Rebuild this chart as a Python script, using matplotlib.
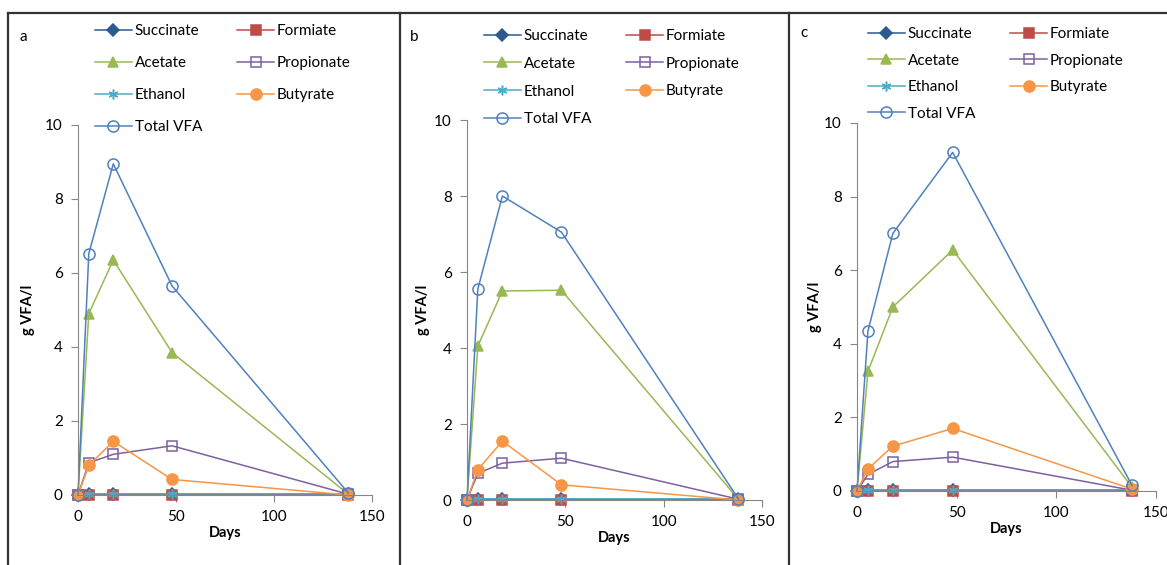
import matplotlib
matplotlib.use('Agg')
import matplotlib.pyplot as plt
from matplotlib.lines import Line2D

plt.rcParams['font.family'] = ['Lato', 'DejaVu Sans']

days = [0, 5.5, 18, 48, 138]

series_names = ['Succinate', 'Formiate', 'Acetate', 'Propionate', 'Ethanol', 'Butyrate', 'Total VFA']

# panel a
a_succinate = [0, 0.02, 0.02, 0.02, 0.02]
a_formiate = [0, 0.01, 0.01, 0.01, 0.01]
a_acetate = [0, 4.9, 6.35, 3.85, 0.02]
a_propionate = [0, 0.87, 1.1, 1.33, 0.02]
a_ethanol = [0, 0.03, 0.03, 0.03, 0.03]
a_butyrate = [0, 0.8, 1.45, 0.42, 0.0]
a_total = [0, 6.52, 8.95, 5.65, 0.05]

# panel b
b_succinate = [0, 0.02, 0.02, 0.02, 0.02]
b_formiate = [0, 0.01, 0.01, 0.01, 0.01]
b_acetate = [0, 4.05, 5.5, 5.52, 0.02]
b_propionate = [0, 0.7, 0.97, 1.1, 0.02]
b_ethanol = [0, 0.03, 0.03, 0.03, 0.03]
b_butyrate = [0, 0.8, 1.55, 0.4, 0.0]
b_total = [0, 5.55, 8.0, 7.05, 0.03]

# panel c
c_succinate = [0, 0.02, 0.02, 0.02, 0.02]
c_formiate = [0, 0.01, 0.01, 0.01, 0.01]
c_acetate = [0, 3.25, 5.0, 6.55, 0.1]
c_propionate = [0, 0.45, 0.8, 0.92, 0.02]
c_ethanol = [0, 0.03, 0.03, 0.03, 0.03]
c_butyrate = [0, 0.6, 1.22, 1.7, 0.05]
c_total = [0, 4.35, 7.0, 9.2, 0.15]

panels = {
    'a': [a_succinate, a_formiate, a_acetate, a_propionate, a_ethanol, a_butyrate, a_total],
    'b': [b_succinate, b_formiate, b_acetate, b_propionate, b_ethanol, b_butyrate, b_total],
    'c': [c_succinate, c_formiate, c_acetate, c_propionate, c_ethanol, c_butyrate, c_total],
}

# colour, marker, filled
styles = [
    ('#2C5A8F', 'D', True),
    ('#BE4B48', 's', True),
    ('#98B954', '^', True),
    ('#7D60A0', 's', False),
    ('#4BACC6', (6, 2, 0), True),
    ('#F79646', 'o', True),
    ('#4F81BD', 'o', False),
]

W, H = 1167, 565
fig = plt.figure(figsize=(W / 100, H / 100), dpi=100)

# axes boxes in pixels: left, right, top, bottom
boxes = {'a': (78, 372, 125, 495), 'b': (467, 762, 120, 500), 'c': (857, 1156, 123, 491)}
legend_pos = {'a': (95, 24, 1.18), 'b': (484, 29, 0.9), 'c': (868, 27, 0.82)}
ylab_x = {'a': -0.145, 'b': -0.125, 'c': -0.118}
label_pos = {'a': (20, 37), 'b': (410, 37), 'c': (800, 33)}
spine_col = '#868686'
legend_order = [0, 2, 4, 6, 1, 3, 5]  # row-wise fill as in the original

for key, data in panels.items():
    l, r, t, b = boxes[key]
    ax = fig.add_axes([l / W, 1 - b / H, (r - l) / W, (b - t) / H])
    for name, vals, (col, mk, filled) in zip(series_names, data, styles):
        ms = 8 if mk == 'o' else 7
        if mk == 'D':
            ms = 6
        ax.plot(days, vals, color=col, lw=1.1, marker=mk, markersize=ms,
                markerfacecolor=col if filled else 'none', markeredgecolor=col,
                markeredgewidth=1.1, label=name, clip_on=False)
    ax.set_xlim(0, 150)
    ax.set_ylim(0, 10)
    ax.set_xticks([0, 50, 100, 150])
    ax.set_yticks([0, 2, 4, 6, 8, 10])
    for s in ['top', 'right']:
        ax.spines[s].set_visible(False)
    for s in ['left', 'bottom']:
        ax.spines[s].set_color(spine_col)
    ax.tick_params(colors=spine_col, labelcolor='black', labelsize=11, length=5, pad=6)
    ax.set_xlabel('Days', fontweight='bold', fontsize=10.5, labelpad=1)
    ax.set_ylabel('g VFA/l', fontweight='bold', fontsize=10.5)
    ax.yaxis.set_label_coords(ylab_x[key], 0.5)
    handles, labels = ax.get_legend_handles_labels()
    lx, ly, sp = legend_pos[key]
    ax.legend([handles[i] for i in legend_order], [labels[i] for i in legend_order],
              loc='upper left', bbox_to_anchor=(lx / W, 1 - ly / H), bbox_transform=fig.transFigure,
              ncol=2, frameon=False, fontsize=11, handlelength=2.4, handletextpad=0.2,
              columnspacing=2.3, labelspacing=sp, borderpad=0, borderaxespad=0)
    px, py = label_pos[key]
    fig.text(px / W, 1 - py / H, key, fontsize=11, va='center')

# panel borders
border = dict(color='#333333', lw=1.6, transform=fig.transFigure)
fig.add_artist(Line2D([8 / W, 1], [1 - 13 / H, 1 - 13 / H], **border))
for xb in [8, 400, 789]:
    fig.add_artist(Line2D([xb / W, xb / W], [1 - 13 / H, 0], **border))

fig.savefig('out.png', dpi=100, facecolor='white')
